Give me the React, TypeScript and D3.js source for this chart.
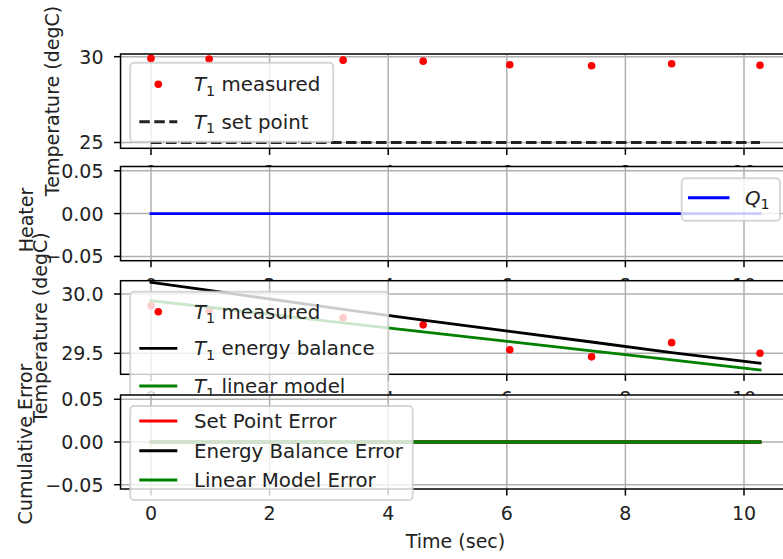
import React from 'react';
import * as d3 from 'd3';

// ---- data ----
const times = [0, 0.98, 3.24, 4.59, 6.05, 7.43, 8.78, 10.27];
const t1Measured = [29.9, 29.86, 29.8, 29.74, 29.53, 29.47, 29.59, 29.5];
const t1SetPoint = [25, 25, 25, 25, 25, 25, 25, 25];
const q1Heater = [0, 0, 0, 0, 0, 0, 0, 0];
const t1EnergyBalance = [30.098, 30.03, 29.87, 29.78, 29.685, 29.595, 29.505, 29.416];
const t1LinearModel = [29.944, 29.888, 29.757, 29.68, 29.598, 29.52, 29.445, 29.359];
const setPointError = [0, 0, 0, 0, 0, 0, 0, 0];
const energyBalanceError = [0, 0, 0, 0, 0, 0, 0, 0];
const linearModelError = [0, 0, 0, 0, 0, 0, 0, 0];

const xTicks = [0, 2, 4, 6, 8, 10];
const yTicksTemp = [25, 30];
const yTicksHeater = [-0.05, 0, 0.05];
const yTicksModel = [29.5, 30.0];
const yTicksError = [-0.05, 0, 0.05];

const FONT = 'DejaVu Sans';
const FS = 19;
const LFS = 19.8;
const LW = 2.85;

type Label = { math?: string; sub?: string; rest?: string };
type Series = { values: number[]; color: string; kind: 'dot' | 'line' | 'dash' };
type LegendRow = { y: number; series: Series; label: Label };
type Legend = { x: number; y: number; w: number; h: number; hx0: number; hx1: number; tx: number; rows: LegendRow[] };

const fmtTemp = d3.format('d');
const fmt2 = d3.format('.2f');
const fmt1 = d3.format('.1f');

export default function App() {
  const W = 783, H = 559;
  const x = d3.scaleLinear().domain([0, 10]).range([151, 744]);
  const xLeft = x(-0.5135);
  const xRight = x(10.7835);

  const sMeas: Series = { values: t1Measured, color: '#ff0000', kind: 'dot' };
  const sSet: Series = { values: t1SetPoint, color: '#222222', kind: 'dash' };
  const sQ: Series = { values: q1Heater, color: '#0000ff', kind: 'line' };
  const sEB: Series = { values: t1EnergyBalance, color: '#000000', kind: 'line' };
  const sLM: Series = { values: t1LinearModel, color: '#008000', kind: 'line' };
  const sSPE: Series = { values: setPointError, color: '#ff0000', kind: 'line' };
  const sEBE: Series = { values: energyBalanceError, color: '#000000', kind: 'line' };
  const sLME: Series = { values: linearModelError, color: '#008000', kind: 'line' };

  const panels = [
    {
      top: 54, bottom: 148.3, domain: [24.662, 30.157], ticks: yTicksTemp, fmt: fmtTemp,
      ylabel: 'Temperature (degC)', lx: 58.5, ly: 101,
      series: [sMeas, sSet],
      legend: {
        x: 130.2, y: 62.7, w: 203, h: 79, hx0: 139.3, hx1: 177.3, tx: 194,
        rows: [
          { y: 84.3, series: sMeas, label: { math: 'T', sub: '1', rest: ' measured' } },
          { y: 121.7, series: sSet, label: { math: 'T', sub: '1', rest: ' set point' } },
        ],
      } as Legend,
    },
    {
      top: 166.5, bottom: 260.7, domain: [-0.055, 0.055], ticks: yTicksHeater, fmt: fmt2,
      ylabel: 'Heater', lx: 32.5, ly: 220,
      series: [sQ],
      legend: {
        x: 681.7, y: 178.3, w: 98.3, h: 42.4, hx0: 688, hx1: 729.5, tx: 745,
        rows: [{ y: 197.7, series: sQ, label: { math: 'Q', sub: '1' } }],
      } as Legend,
    },
    {
      top: 280.7, bottom: 374.3, domain: [29.323, 30.112], ticks: yTicksModel, fmt: fmt1,
      ylabel: 'Temperature (degC)', lx: 47, ly: 327.5,
      series: [sMeas, sEB, sLM],
      legend: {
        x: 130.2, y: 291.7, w: 258, h: 114, hx0: 139.3, hx1: 177.3, tx: 194,
        rows: [
          { y: 311.7, series: sMeas, label: { math: 'T', sub: '1', rest: ' measured' } },
          { y: 348.3, series: sEB, label: { math: 'T', sub: '1', rest: ' energy balance' } },
          { y: 386, series: sLM, label: { math: 'T', sub: '1', rest: ' linear model' } },
        ],
      } as Legend,
    },
    {
      top: 395, bottom: 489, domain: [-0.055, 0.055], ticks: yTicksError, fmt: fmt2,
      ylabel: 'Cumulative Error', lx: 32, ly: 444,
      series: [sSPE, sEBE, sLME],
      legend: {
        x: 130.2, y: 406, w: 282.5, h: 94, hx0: 139.3, hx1: 177.3, tx: 194,
        rows: [
          { y: 421, series: sSPE, label: { rest: 'Set Point Error' } },
          { y: 450.7, series: sEBE, label: { rest: 'Energy Balance Error' } },
          { y: 480, series: sLME, label: { rest: 'Linear Model Error' } },
        ],
      } as Legend,
    },
  ];

  const renderLabel = (lab: Label, tx: number, baseline: number) => (
    <text x={tx} y={baseline} fontSize={LFS} fontFamily={FONT} fill="#222" style={{ whiteSpace: 'pre' }}>
      {lab.math ? <tspan fontStyle="italic">{lab.math}</tspan> : null}
      {lab.sub ? <tspan fontSize={LFS * 0.72} dy={4.5}>{lab.sub}</tspan> : null}
      {lab.rest ? <tspan dy={lab.sub ? -4.5 : 0}>{lab.rest}</tspan> : null}
    </text>
  );

  return (
    <svg width={W} height={H} viewBox={`0 0 ${W} ${H}`}
      style={{ position: 'absolute', left: 0, top: 0, display: 'block', background: '#fff' }}>
      <defs>
        {panels.map((p, i) => (
          <clipPath id={`clip${i}`} key={i}>
            <rect x={xLeft} y={p.top} width={xRight - xLeft} height={p.bottom - p.top} />
          </clipPath>
        ))}
      </defs>
      <rect x={0} y={0} width={W} height={H} fill="#fff" />
      {panels.map((p, i) => {
        const y = d3.scaleLinear().domain(p.domain).range([p.bottom, p.top]);
        const line = d3.line<number>().x((_, k) => x(times[k])).y((d) => y(d));
        const lg = p.legend;
        return (
          <g key={i}>
            {/* axes patch */}
            <rect x={xLeft} y={p.top} width={xRight - xLeft} height={p.bottom - p.top} fill="#fff" />
            {/* grid */}
            <g clipPath={`url(#clip${i})`} stroke="#b0b0b0" strokeWidth={1.5}>
              {xTicks.map((t) => (
                <line key={`gx${t}`} x1={x(t)} x2={x(t)} y1={p.top} y2={p.bottom} />
              ))}
              {p.ticks.map((t) => (
                <line key={`gy${t}`} x1={xLeft} x2={xRight} y1={y(t)} y2={y(t)} />
              ))}
            </g>
            {/* x ticks + labels */}
            <g>
              {xTicks.map((t) => (
                <g key={`xt${t}`}>
                  <line x1={x(t)} x2={x(t)} y1={p.bottom} y2={p.bottom + 6.6} stroke="#000" strokeWidth={1.5} />
                  <text x={x(t)} y={p.bottom + 30.8} textAnchor="middle" fontSize={FS} fontFamily={FONT} fill="#222">
                    {t}
                  </text>
                </g>
              ))}
            </g>
            {/* y ticks + labels */}
            <g>
              {p.ticks.map((t) => (
                <g key={`yt${t}`}>
                  <line x1={xLeft - 6.6} x2={xLeft} y1={y(t)} y2={y(t)} stroke="#000" strokeWidth={1.5} />
                  <text x={103.5} y={y(t) + 6.9} textAnchor="end" fontSize={FS} fontFamily={FONT} fill="#222">
                    {p.fmt(t)}
                  </text>
                </g>
              ))}
            </g>
            {/* y label */}
            <text transform={`translate(${p.lx},${p.ly}) rotate(-90)`} textAnchor="middle"
              fontSize={FS} fontFamily={FONT} fill="#222">
              {p.ylabel}
            </text>
            {/* data */}
            <g clipPath={`url(#clip${i})`}>
              {p.series.map((s, k) =>
                s.kind === 'dot' ? (
                  <g key={k} fill={s.color}>
                    {s.values.map((v, j) => (
                      <circle key={j} cx={x(times[j])} cy={y(v)} r={3.8} />
                    ))}
                  </g>
                ) : (
                  <path key={k} d={line(s.values) || ''} fill="none" stroke={s.color} strokeWidth={LW}
                    strokeDasharray={s.kind === 'dash' ? '10.5 4.5' : undefined} strokeLinecap={s.kind === 'dash' ? 'butt' : 'square'} />
                )
              )}
            </g>
            {/* spines */}
            <rect x={xLeft} y={p.top} width={xRight - xLeft} height={p.bottom - p.top} fill="none"
              stroke="#000" strokeWidth={1.5} />
            {/* legend */}
            <g>
              <rect x={lg.x} y={lg.y} width={lg.w} height={lg.h} rx={3.8} ry={3.8}
                fill="#fff" fillOpacity={0.8} stroke="#cccccc" strokeOpacity={0.8} strokeWidth={1.9} />
              {lg.rows.map((r, k) => (
                <g key={k}>
                  {r.series.kind === 'dot' ? (
                    <circle cx={(lg.hx0 + lg.hx1) / 2} cy={r.y} r={3.8} fill={r.series.color} />
                  ) : (
                    <line x1={lg.hx0} x2={lg.hx1} y1={r.y} y2={r.y} stroke={r.series.color} strokeWidth={LW}
                      strokeDasharray={r.series.kind === 'dash' ? '10.5 4.5' : undefined} />
                  )}
                  {renderLabel(r.label, lg.tx, r.y + 7)}
                </g>
              ))}
            </g>
          </g>
        );
      })}
      {/* x label */}
      <text x={(xLeft + xRight) / 2} y={547.5} textAnchor="middle" fontSize={FS} fontFamily={FONT} fill="#222">
        Time (sec)
      </text>
    </svg>
  );
}
